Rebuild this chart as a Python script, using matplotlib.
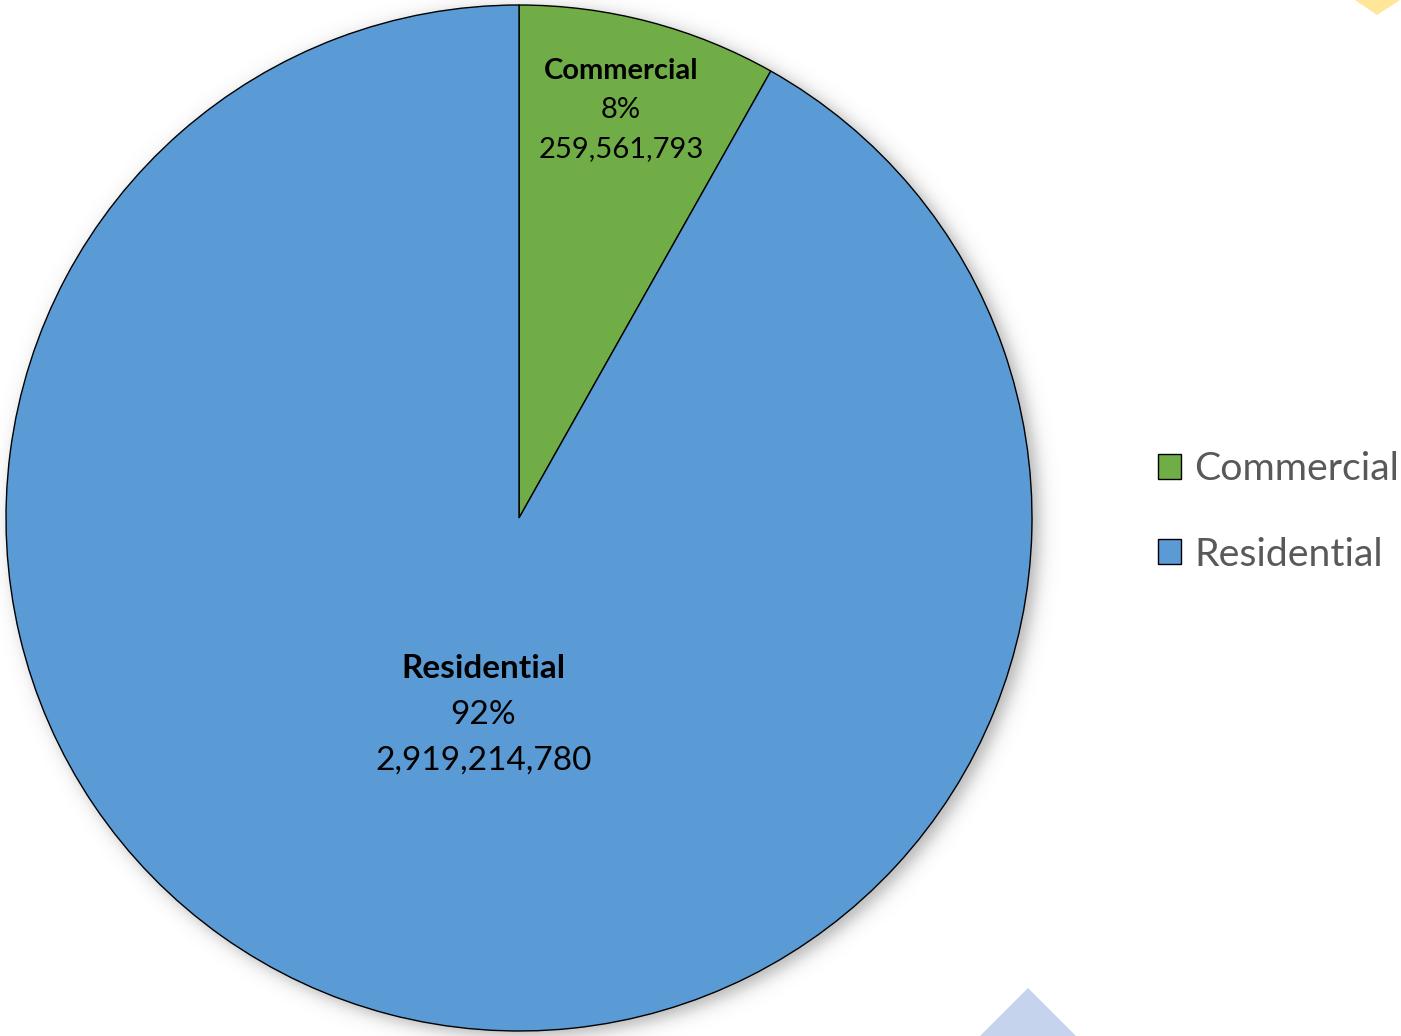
import numpy as np
import matplotlib
matplotlib.use("Agg")
import matplotlib.pyplot as plt
from matplotlib.patches import Patch, Polygon

plt.rcParams['font.family'] = ['Lato', 'DejaVu Sans']

# Floor area by building type
categories = ["Commercial", "Residential"]
values = [259561793, 2919214780]
colors = ["#70AD47", "#5B9BD5"]

W, H = 1401, 1036
fig = plt.figure(figsize=(W / 100, H / 100), dpi=100)
ax = fig.add_axes([0, 0, 1, 1])

cx, cy, R = 519, 518, 513

# soft drop shadow behind the pie
yy, xx = np.mgrid[0:H, 0:W]
d = np.hypot(xx - (cx + 6), (H - yy) - (cy - 4))
alpha = 0.45 / (1 + np.exp((d - (R + 1)) / 5.0))
shadow = np.zeros((H, W, 4))
shadow[..., :3] = 0.35
shadow[..., 3] = alpha
ax.imshow(shadow, extent=(0, W, 0, H), origin="upper", zorder=0)

# decorative corner shapes
ax.add_patch(Polygon([[1355, H], [1400, H], [1377, H - 15]], closed=True,
                     facecolor="#FFE699", edgecolor="none", zorder=0))
ax.add_patch(Polygon([[980, 0], [1076, 0], [1028, H - 988]], closed=True,
                     facecolor="#C5D3EC", edgecolor="none", zorder=0))

wedges, _ = ax.pie(values, colors=colors, startangle=90, counterclock=False,
                   center=(cx, cy), radius=R, frame=True,
                   wedgeprops=dict(edgecolor="black", linewidth=1.0))
for w in wedges:
    w.set_zorder(2)
ax.set_xlim(0, W)
ax.set_ylim(0, H)
ax.set_aspect("equal")
ax.axis("off")

# data labels: name / percentage / value, placed inside each wedge
total = sum(values)
dist = [0.82, 0.39]
angle_shift = [0.7, 4.4]
sizes = [21.0, 24.0]
gaps = [39, 46]
for w, name, v, r, da, fs, g in zip(wedges, categories, values, dist,
                                    angle_shift, sizes, gaps):
    mid = np.deg2rad((w.theta1 + w.theta2) / 2 + da)
    x = cx + r * R * np.cos(mid)
    y = cy + r * R * np.sin(mid)
    pct = f"{v / total * 100:.0f}%"
    ax.text(x, y + g, name, ha="center", va="center", fontsize=fs,
            fontweight="bold", color="black", zorder=3)
    ax.text(x, y, pct, ha="center", va="center", fontsize=fs,
            color="black", zorder=3)
    ax.text(x, y - g, f"{v:,}", ha="center", va="center", fontsize=fs,
            color="black", zorder=3)

handles = [Patch(facecolor=c, edgecolor="black", linewidth=1.0) for c in colors]
leg = fig.legend(handles, categories, loc="center left",
                 bbox_to_anchor=(1158 / W, 1 - 512 / H), frameon=False,
                 borderpad=0, borderaxespad=0,
                 fontsize=28.3, labelcolor="#595959", handlelength=0.58,
                 handleheight=0.58, handletextpad=0.35, labelspacing=1.25)

fig.savefig("out.png", dpi=100)
